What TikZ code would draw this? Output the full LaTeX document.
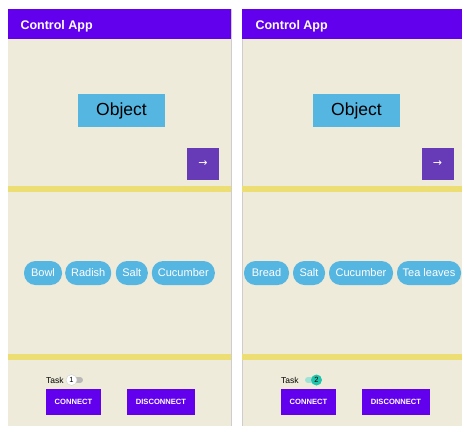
\documentclass[tikz,border=0pt]{standalone}
\usepackage{fontspec}
\setmainfont{Liberation Sans}
\newfontfamily\symfont{DejaVu Sans}
\definecolor{screenbg}{RGB}{238,235,218}
\definecolor{appbar}{RGB}{98,0,238}
\definecolor{divider}{RGB}{237,222,115}
\definecolor{chipblue}{RGB}{86,182,226}
\definecolor{fabpurple}{RGB}{103,58,183}
\definecolor{edgegray}{RGB}{205,205,205}
\definecolor{trackoff}{RGB}{185,185,185}
\definecolor{trackon}{RGB}{160,226,214}
\definecolor{thumbon}{RGB}{32,196,172}
\tikzset{
  x=1pt, y=-1pt,
  title/.style={anchor=base west, text=white, font=\fontsize{12.5}{14}\selectfont\bfseries},
  objbox/.style={fill=chipblue, minimum width=87pt, minimum height=33pt, inner sep=0pt, font=\fontsize{17.5}{20}\selectfont},
  fab/.style={fill=fabpurple, minimum width=32pt, minimum height=32pt, inner sep=0pt, text=white, font=\symfont\fontsize{11}{12}\selectfont},
  chip/.style={fill=chipblue, rounded corners=11.5pt, minimum height=24pt, inner sep=0pt, text=white, font=\fontsize{11}{13}\selectfont},
  cmdbtn/.style={fill=appbar, minimum height=26pt, inner sep=0pt, text=white, font=\fontsize{7.6}{9}\selectfont\bfseries},
  tasklbl/.style={font=\fontsize{8.5}{10}\selectfont, inner sep=0pt, anchor=west},
  thumb/.style={circle, minimum size=11pt, inner sep=0pt, font=\fontsize{7.5}{8}\selectfont},
}
\begin{document}
\begin{tikzpicture}
\useasboundingbox (0,0) rectangle (462,426);
% ---------- left screen ----------
\fill[screenbg] (8,9) rectangle (231,426);
\fill[appbar] (8,9) rectangle (231,39);
\draw[edgegray, line width=1pt] (231.5,9) -- (231.5,426);
\node[title] (Ltitle) at (17,29) {Control App};
\node[objbox] (Lobj) at (121.5,110.5) {Object};
\node[fab] (Lfab) at (203,164) {→};
\fill[divider] (8,186) rectangle (231,191.5);
\node[chip, minimum width=38pt] (Lc1) at (43,273) {Bowl};
\node[chip, minimum width=46pt] (Lc2) at (88.2,273) {Radish};
\node[chip, minimum width=32pt] (Lc3) at (131.8,273) {Salt};
\node[chip, minimum width=63pt] (Lc4) at (183.3,273) {Cucumber};
\fill[divider] (8,354) rectangle (231,359.5);
\node[tasklbl] (Ltask) at (46,380) {Task};
\fill[trackoff] (70,377) rectangle (80,383) ;
\fill[trackoff] (80,380) circle (3pt);
\node[thumb, fill=white, draw=trackoff!60, line width=0.5pt] (Lsw) at (71.5,380) {1};
\node[cmdbtn, minimum width=55pt] (Lcon) at (73.5,402) {CONNECT};
\node[cmdbtn, minimum width=68pt] (Ldis) at (161,402) {DISCONNECT};
% ---------- right screen ----------
\fill[screenbg] (242,9) rectangle (462,426);
\fill[appbar] (242,9) rectangle (462,39);
\draw[edgegray, line width=1pt] (242.5,39) -- (242.5,426);
\node[title] (Rtitle) at (252,29) {Control App};
\node[objbox] (Robj) at (356.5,110.5) {Object};
\node[fab] (Rfab) at (437.5,164) {→};
\fill[divider] (242,186) rectangle (462,191.5);
\node[chip, minimum width=45pt] (Rc1) at (266.5,273) {Bread};
\node[chip, minimum width=32pt] (Rc2) at (309,273) {Salt};
\node[chip, minimum width=64pt] (Rc3) at (361,273) {Cucumber};
\node[chip, minimum width=64pt] (Rc4) at (429,273) {Tea leaves};
\fill[divider] (242,354) rectangle (462,359.5);
\node[tasklbl] (Rtask) at (281,380) {Task};
\fill[trackon] (308,377) rectangle (318,383);
\fill[trackon] (308,380) circle (3pt);
\node[thumb, fill=thumbon] (Rsw) at (316.5,380) {2};
\node[cmdbtn, minimum width=55pt] (Rcon) at (308.5,402) {CONNECT};
\node[cmdbtn, minimum width=68pt] (Rdis) at (396,402) {DISCONNECT};
\end{tikzpicture}
\end{document}
